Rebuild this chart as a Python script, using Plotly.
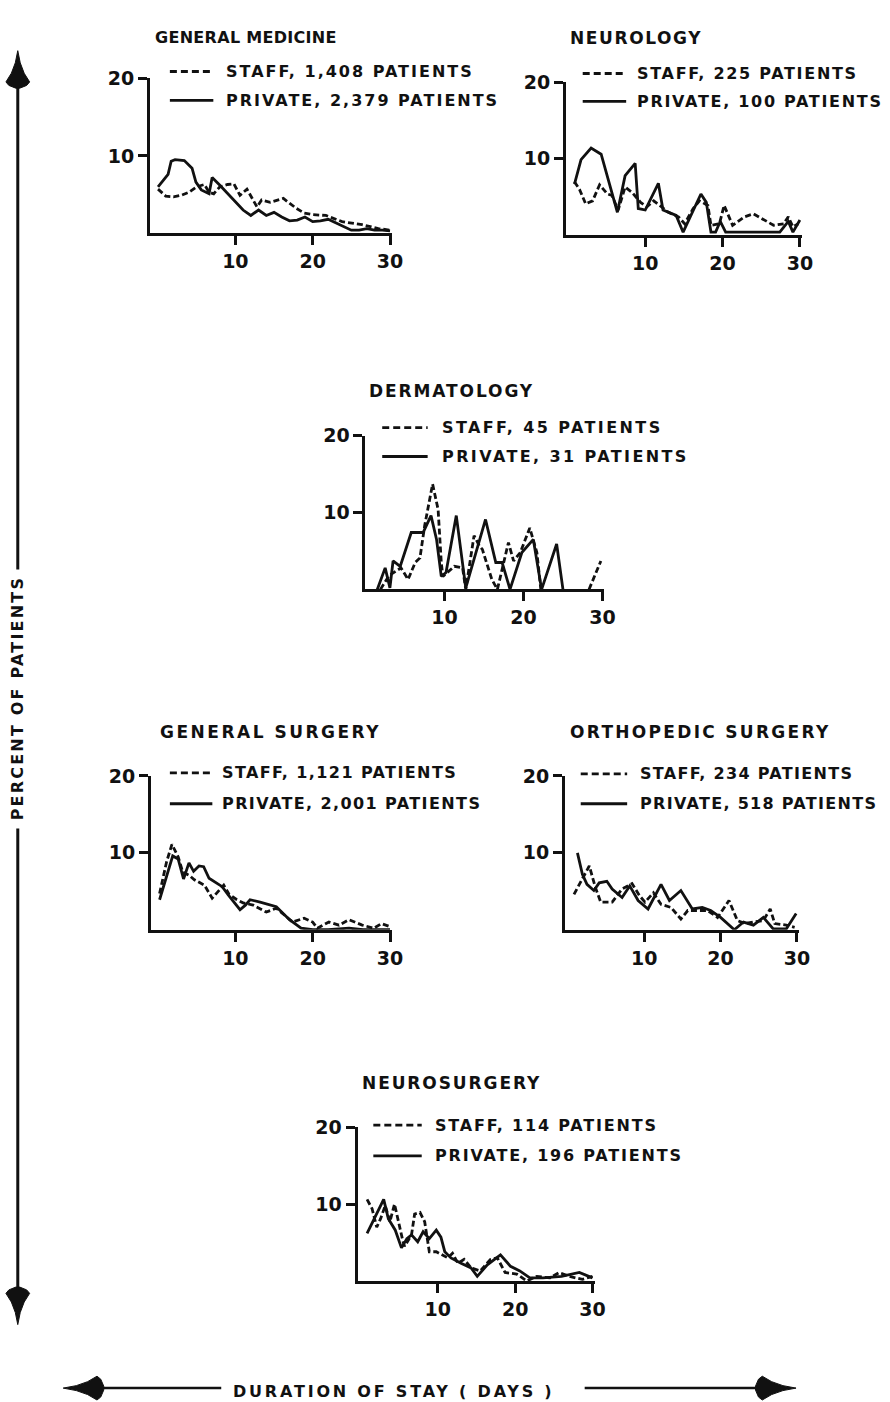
import plotly.graph_objects as go

W, H = 890, 1402
FONT = "DejaVu Sans"
INK = "#111111"

# ---------------- data: percent of patients by duration of stay (days) ----------------
GM_STAFF_DAY = [0, 1, 2, 3, 4, 5, 6, 6.6, 7.2, 8, 9, 9.8, 10.6, 11.5, 12.8, 13.4, 14.5, 16.2, 17.9, 18.9, 20, 21.7, 23.8, 26.4, 28.5, 30]
GM_STAFF_PCT = [5.7, 4.8, 4.7, 4.9, 5.3, 6.0, 6.3, 5.3, 5.1, 6.0, 6.3, 6.4, 4.9, 5.7, 3.4, 4.3, 4.0, 4.5, 3.2, 2.6, 2.4, 2.3, 1.5, 1.1, 0.6, 0.4]
GM_PRIV_DAY = [0, 1.3, 1.7, 2.2, 3.4, 4.4, 4.9, 5.6, 6.6, 7.0, 8, 9, 10, 11, 12, 13, 14, 15, 16, 17, 18, 19, 20, 21, 22, 23, 24, 25, 26, 27, 28, 29, 30]
GM_PRIV_PCT = [6.0, 7.6, 9.3, 9.5, 9.4, 8.4, 6.6, 5.6, 5.1, 7.2, 6.2, 5.1, 4.0, 3.0, 2.3, 3.0, 2.3, 2.7, 2.1, 1.6, 1.7, 2.1, 1.5, 1.6, 1.8, 1.3, 0.9, 0.4, 0.4, 0.6, 0.4, 0.4, 0.3]

NEU_STAFF_DAY = [0.85, 1.5, 2.3, 3.2, 4.1, 5.1, 5.7, 6.5, 7.4, 8.3, 9.4, 10.2, 11.1, 12.1, 13.0, 14.3, 15.1, 16.2, 17.0, 18.1, 18.5, 19.6, 20.2, 21.3, 22.8, 24.0, 25.3, 26.6, 27.9, 28.5, 29.1, 29.8]
NEU_STAFF_PCT = [7.0, 6.0, 4.1, 4.5, 6.6, 5.4, 5.2, 3.3, 6.3, 5.6, 4.3, 3.7, 4.5, 3.7, 3.0, 2.4, 1.5, 3.5, 4.5, 3.9, 1.3, 1.5, 3.9, 1.3, 2.4, 2.8, 2.1, 1.3, 1.5, 2.4, 1.1, 1.5]
NEU_PRIV_DAY = [0.85, 1.7, 3.0, 4.3, 6.4, 7.4, 8.7, 9.1, 10.0, 11.7, 12.3, 14.0, 14.9, 16.2, 17.2, 17.9, 18.5, 19.1, 19.7, 20.4, 27.4, 28.5, 29.1, 30.0]
NEU_PRIV_PCT = [6.7, 9.9, 11.4, 10.6, 3.0, 7.8, 9.4, 3.5, 3.3, 6.8, 3.3, 2.6, 0.4, 3.3, 5.4, 4.3, 0.4, 0.4, 1.8, 0.4, 0.4, 1.8, 0.4, 2.0]

# staff dermatology: no cases between days 22 and 28 (None breaks the line)
DER_STAFF_DAY = [1.9, 3.0, 4.5, 5.4, 6.3, 6.9, 7.5, 8.5, 9.2, 9.6, 9.8, 11.25, 12.3, 12.7, 13.75, 14.4, 14.8, 16.0, 16.7, 17.5, 18.1, 18.75, 19.6, 20.8, 21.7, 22.2, None, 28.3, 29.8]
DER_STAFF_PCT = [0, 1.8, 2.8, 1.3, 3.5, 4.1, 8.3, 13.7, 10.4, 3.5, 1.7, 3.0, 2.8, 0, 7.0, 5.7, 5.2, 1.3, 0, 3.5, 6.1, 3.7, 4.8, 8.0, 4.8, 0, None, 0, 3.7]
DER_PRIV_DAY = [1.5, 2.5, 3.1, 3.5, 4.4, 5.8, 7.3, 8.3, 9.0, 9.6, 10.2, 11.5, 12.7, 15.2, 16.5, 17.3, 18.3, 19.8, 21.25, 22.3, 24.2, 25.0]
DER_PRIV_PCT = [0, 2.8, 0.2, 3.7, 3.0, 7.4, 7.4, 9.6, 6.5, 1.7, 2.2, 9.6, 0.2, 9.1, 3.5, 3.5, 0, 4.8, 6.5, 0, 5.9, 0]

GS_STAFF_DAY = [0.2, 1.1, 1.8, 2.6, 3.2, 4.0, 4.7, 6.0, 7.0, 8.5, 9.2, 10.2, 11.0, 12.3, 14.0, 15.3, 17.4, 18.9, 20.0, 20.6, 22.1, 23.4, 24.7, 26.4, 27.9, 28.9, 30.0]
GS_STAFF_PCT = [4.7, 8.8, 11.1, 9.5, 7.5, 7.1, 6.5, 5.8, 4.1, 5.8, 4.6, 3.9, 3.5, 3.2, 2.3, 2.8, 1.0, 1.5, 1.0, 0.2, 1.0, 0.6, 1.3, 0.6, 0.2, 0.8, 0.4]
GS_PRIV_DAY = [0.2, 1.9, 2.6, 3.3, 4.0, 4.6, 5.3, 5.9, 6.6, 8.3, 9.1, 9.8, 10.6, 11.3, 11.9, 13.2, 15.3, 17.0, 18.5, 20.0, 22.0, 24.7, 26.5, 30.0]
GS_PRIV_PCT = [3.9, 9.6, 9.2, 6.6, 8.7, 7.6, 8.3, 8.2, 6.7, 5.6, 4.5, 3.6, 2.6, 3.2, 3.9, 3.6, 3.0, 1.3, 0.2, 0.0, 0.0, 0.2, 0.0, 0.0]

ORT_STAFF_DAY = [0.8, 1.5, 2.8, 3.6, 4.3, 5.8, 7.1, 8.4, 9.4, 10.1, 11.2, 12.2, 13.5, 14.8, 15.7, 17.0, 18.3, 19.6, 21.1, 22.2, 23.2, 24.3, 25.6, 26.5, 27.1, 28.6, 29.7]
ORT_STAFF_PCT = [4.6, 5.9, 8.3, 5.5, 3.6, 3.6, 5.3, 6.0, 4.4, 3.6, 4.8, 3.3, 2.9, 1.4, 2.5, 2.5, 2.5, 1.6, 3.8, 1.2, 0.8, 1.0, 1.2, 2.7, 0.8, 0.6, 0.3]
ORT_PRIV_DAY = [1.25, 1.9, 2.5, 3.4, 4.1, 5.1, 5.8, 7.1, 8.1, 9.2, 10.5, 12.2, 13.3, 14.8, 16.3, 17.6, 18.7, 20.0, 21.8, 23.0, 24.3, 25.6, 26.9, 28.6, 29.9]
ORT_PRIV_PCT = [10.0, 7.2, 5.9, 5.1, 6.1, 6.3, 5.3, 4.2, 5.7, 3.8, 2.7, 5.9, 3.8, 5.1, 2.7, 2.9, 2.5, 1.6, 0.0, 1.0, 0.6, 1.6, 0.1, 0.1, 2.1]

NS_STAFF_DAY = [0.85, 1.5, 2.1, 2.6, 3.2, 3.8, 4.4, 4.9, 5.5, 5.7, 6.6, 7.0, 7.7, 8.3, 8.9, 9.8, 11.3, 11.9, 12.6, 13.4, 14.3, 15.5, 16.8, 17.7, 18.7, 20.2, 21.5, 22.8, 24.5, 25.7, 27.0, 28.7, 30.0]
NS_STAFF_PCT = [10.6, 9.4, 7.0, 8.1, 9.8, 7.7, 10.0, 7.7, 5.1, 4.5, 6.0, 8.7, 8.9, 7.7, 3.8, 3.8, 3.0, 3.6, 2.3, 2.8, 1.7, 1.3, 2.8, 3.0, 1.1, 0.9, 0.0, 0.6, 0.4, 1.1, 0.6, 0.2, 0.6]
NS_PRIV_DAY = [0.85, 1.7, 3.0, 3.6, 4.5, 5.3, 6.0, 6.6, 7.4, 8.1, 8.9, 9.8, 10.4, 10.9, 11.7, 13.0, 14.3, 15.1, 16.4, 18.1, 19.4, 20.6, 21.9, 23.6, 26.0, 28.3, 30.0]
NS_PRIV_PCT = [6.2, 7.9, 10.6, 8.1, 6.6, 4.3, 5.5, 6.0, 5.1, 6.4, 5.5, 6.6, 5.7, 3.8, 3.0, 2.3, 1.7, 0.6, 2.1, 3.4, 1.9, 1.3, 0.4, 0.4, 0.6, 1.1, 0.4]

# ---------------- panel layout (pixel geometry) ----------------
# box: y-axis px, day-0 px, px per day, axis end px, top (20 %) px, bottom (0 %) px
# ttl: title font size and letter spacing; kls: key text letter spacing
PANELS = [
    dict(title="GENERAL MEDICINE", staff="STAFF, 1,408 PATIENTS", priv="PRIVATE, 2,379 PATIENTS",
         s=(GM_STAFF_DAY, GM_STAFF_PCT), p=(GM_PRIV_DAY, GM_PRIV_PCT),
         box=(152, 160, 7.83, 397, 68, 224), title_at=(155, 27), ttl=(16, 0.3), kls=2.0,
         leg=(172, 216, 227, 61, 90)),
    dict(title="NEUROLOGY", staff="STAFF, 225 PATIENTS", priv="PRIVATE, 100 PATIENTS",
         s=(NEU_STAFF_DAY, NEU_STAFF_PCT), p=(NEU_PRIV_DAY, NEU_PRIV_PCT),
         box=(573, 575, 7.83, 812, 72, 226), title_at=(575, 27), ttl=(17, 1.6), kls=1.7,
         leg=(590, 634, 643, 63, 91)),
    dict(title="DERMATOLOGY", staff="STAFF, 45 PATIENTS", priv="PRIVATE, 31 PATIENTS",
         s=(DER_STAFF_DAY, DER_STAFF_PCT), p=(DER_PRIV_DAY, DER_PRIV_PCT),
         box=(370, 370, 8.0, 612, 428, 583), title_at=(372, 383), ttl=(17, 1.9), kls=2.4,
         leg=(387, 433, 445, 420, 449)),
    dict(title="GENERAL SURGERY", staff="STAFF, 1,121 PATIENTS", priv="PRIVATE, 2,001 PATIENTS",
         s=(GS_STAFF_DAY, GS_STAFF_PCT), p=(GS_PRIV_DAY, GS_PRIV_PCT),
         box=(153, 160, 7.83, 397, 771, 926), title_at=(160, 727), ttl=(17, 2.5), kls=1.4,
         leg=(172, 215, 223, 768, 799)),
    dict(title="ORTHOPEDIC SURGERY", staff="STAFF, 234 PATIENTS", priv="PRIVATE, 518 PATIENTS",
         s=(ORT_STAFF_DAY, ORT_STAFF_PCT), p=(ORT_PRIV_DAY, ORT_PRIV_PCT),
         box=(572, 575, 7.73, 809, 771, 926), title_at=(575, 727), ttl=(17, 2.3), kls=1.3,
         leg=(588, 635, 646, 769, 799)),
    dict(title="NEUROSURGERY", staff="STAFF, 114 PATIENTS", priv="PRIVATE, 196 PATIENTS",
         s=(NS_STAFF_DAY, NS_STAFF_PCT), p=(NS_PRIV_DAY, NS_PRIV_PCT),
         box=(362, 365, 7.83, 602, 1125, 1280), title_at=(365, 1080), ttl=(17, 1.9), kls=1.8,
         leg=(378, 427, 438, 1123, 1154)),
]

DATA_DASH = "6px,3px"
KEY_DASH = "7px,4px"
LW = 2.8


def px(x):
    return x / W


def py(y):
    return 1 - y / H


def spaced(text, ls=2.0):
    return f'<span style="letter-spacing:{ls}px">{text}</span>'


fig = go.Figure()
layout = dict(width=W, height=H, margin=dict(l=0, r=0, t=0, b=0),
              paper_bgcolor="white", plot_bgcolor="white", showlegend=False)
annotations, shapes = [], []

tickfont = dict(family=FONT, size=19, color=INK, weight="bold")
textfont = dict(family=FONT, size=16, color=INK, weight="bold")

for i, pn in enumerate(PANELS, start=1):
    left, d0, ppd, right, top, bottom = pn["box"]
    xa, ya = f"x{i}", f"y{i}"
    common = dict(showline=True, linecolor=INK, linewidth=3, ticks="outside", ticklen=9,
                  tickwidth=3, tickcolor=INK, showgrid=False, zeroline=False,
                  tickfont=tickfont, fixedrange=True)
    layout[f"xaxis{i}"] = dict(common, domain=[px(left), px(right)],
                               range=[(left - d0) / ppd, (right - d0) / ppd],
                               tickvals=[10, 20, 30], anchor=ya, ticklabelstandoff=0)
    layout[f"yaxis{i}"] = dict(common, domain=[py(bottom), py(top)], range=[0, 20],
                               tickvals=[10, 20], anchor=xa, ticklabelstandoff=0)

    for (days, pct), dash in ((pn["s"], DATA_DASH), (pn["p"], "solid")):
        fig.add_trace(go.Scatter(x=days, y=pct, mode="lines", xaxis=xa, yaxis=ya,
                                 line=dict(color=INK, width=LW, dash=dash),
                                 connectgaps=False, hoverinfo="skip"))

    tx, ty = pn["title_at"]
    tsize, tls = pn["ttl"]
    annotations.append(dict(text=spaced(pn["title"], tls), x=px(tx), y=py(ty), xref="paper",
                            yref="paper", xanchor="left", yanchor="middle", showarrow=False,
                            font=dict(family=FONT, size=tsize, color=INK, weight="bold")))
    l0, l1, tx0, ys, yp = pn["leg"]
    shapes.append(dict(type="line", xref="paper", yref="paper", x0=px(l0), x1=px(l1),
                       y0=py(ys), y1=py(ys), line=dict(color=INK, width=LW, dash=KEY_DASH)))
    shapes.append(dict(type="line", xref="paper", yref="paper", x0=px(l0), x1=px(l1),
                       y0=py(yp), y1=py(yp), line=dict(color=INK, width=LW)))
    for label, yy in ((pn["staff"], ys), (pn["priv"], yp)):
        annotations.append(dict(text=spaced(label, pn["kls"]), x=px(tx0), y=py(yy), xref="paper",
                                yref="paper", xanchor="left", yanchor="middle",
                                showarrow=False, font=textfont))


def path(points):
    return "M " + " L ".join(f"{px(x):.5f},{py(y):.5f}" for x, y in points) + " Z"


def arrow_head(tip, base, axis="v", c=0):
    # spade-shaped arrowhead: pointed tip, flared shoulders, waist at the shaft
    s = 1 if base > tip else -1
    L = abs(base - tip)
    prof = [(0.0, 0), (0.35, 2.5), (0.65, 6.5), (0.9, 12), (1.0, 9), (1.08, 2)]
    side = [(tip + s * L * f, c + w) for f, w in prof]
    other = [(tip + s * L * f, c - w) for f, w in reversed(prof[1:])]
    pts = side + other
    if axis == "v":
        pts = [(b, a) for a, b in pts]
    return dict(type="path", xref="paper", yref="paper", path=path(pts),
                fillcolor=INK, line=dict(color=INK, width=1))


# vertical "percent of patients" arrow
VX = 18
shapes += [
    dict(type="line", xref="paper", yref="paper", x0=px(VX), x1=px(VX), y0=py(70), y1=py(563),
         line=dict(color=INK, width=3)),
    dict(type="line", xref="paper", yref="paper", x0=px(VX), x1=px(VX), y0=py(824), y1=py(1292),
         line=dict(color=INK, width=3)),
    arrow_head(40, 75, "v", VX),
    arrow_head(1324, 1289, "v", VX),
]
annotations.append(dict(text=spaced("PERCENT OF PATIENTS", 2.2), x=px(VX), y=py(693), xref="paper",
                        yref="paper", textangle=-90, showarrow=False, xanchor="center",
                        yanchor="middle", font=textfont))

# horizontal "duration of stay" arrow
HY = 1388
shapes += [
    dict(type="line", xref="paper", yref="paper", x0=px(95), x1=px(224), y0=py(HY), y1=py(HY),
         line=dict(color=INK, width=2.5)),
    dict(type="line", xref="paper", yref="paper", x0=px(592), x1=px(775), y0=py(HY), y1=py(HY),
         line=dict(color=INK, width=2.5)),
    arrow_head(64, 102, "h", HY),
    arrow_head(806, 768, "h", HY),
]
annotations.append(dict(text=spaced("DURATION OF STAY ( DAYS )", 2.8), x=px(398), y=py(HY + 3),
                        xref="paper", yref="paper", showarrow=False, xanchor="center",
                        yanchor="middle", font=textfont))

layout["annotations"] = annotations
layout["shapes"] = shapes
fig.update_layout(**layout)
fig.write_html("out.html")
